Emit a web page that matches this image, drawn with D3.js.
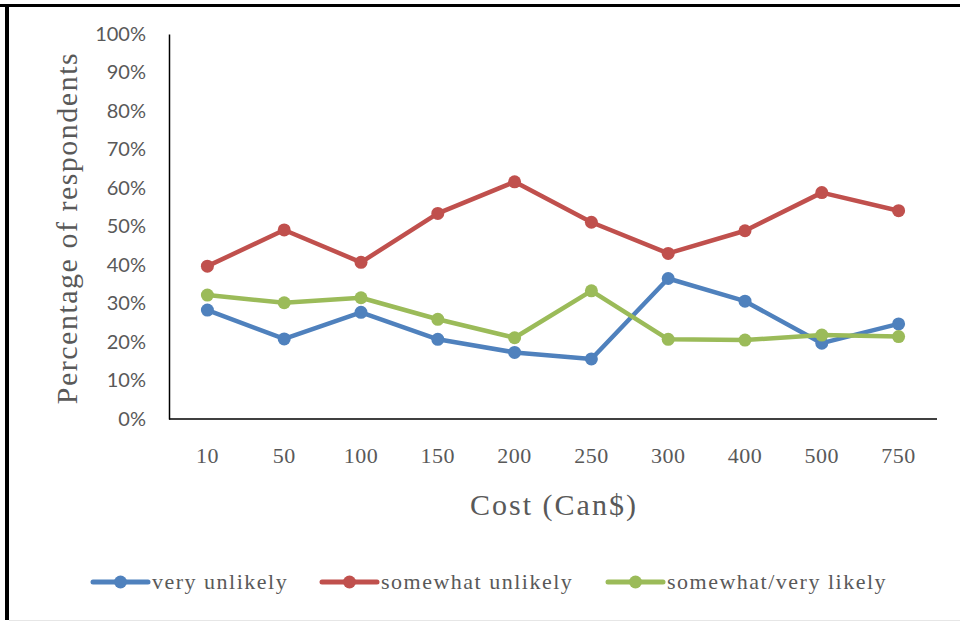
<html>
<head>
<script src="https://cdnjs.cloudflare.com/ajax/libs/d3/7.8.5/d3.min.js"></script>
<style>
  body { margin: 0; background: #fff; }
</style>
</head>
<body>
<svg id="chart" width="960" height="621"></svg>
<script>
var costs = ["10", "50", "100", "150", "200", "250", "300", "400", "500", "750"];
var veryUnlikely = [28.3, 20.8, 27.7, 20.7, 17.3, 15.6, 36.5, 30.6, 19.7, 24.7];
var somewhatUnlikely = [39.7, 49.1, 40.7, 53.4, 61.6, 51.1, 43.0, 48.9, 58.8, 54.1];
var likely = [32.2, 30.2, 31.5, 25.9, 21.1, 33.3, 20.7, 20.5, 21.8, 21.4];
var seriesNames = ["very unlikely", "somewhat unlikely", "somewhat/very likely"];
var yTicks = [0, 10, 20, 30, 40, 50, 60, 70, 80, 90, 100];

var colors = ["#4F81BD", "#C0504D", "#9BBB59"];
var series = [veryUnlikely, somewhatUnlikely, likely];

var svg = d3.select("#chart");
var serif = "'Liberation Serif', 'DejaVu Serif', serif";

// frame of the picture
svg.append("line").attr("x1", 0).attr("x2", 960).attr("y1", 5.5).attr("y2", 5.5)
   .attr("stroke", "#000").attr("stroke-width", 3);
svg.append("line").attr("x1", 7).attr("x2", 7).attr("y1", 4).attr("y2", 620)
   .attr("stroke", "#000").attr("stroke-width", 4);
svg.append("line").attr("x1", 9).attr("x2", 960).attr("y1", 620.5).attr("y2", 620.5)
   .attr("stroke", "#e6e6e6").attr("stroke-width", 1);

var xScale = d3.scaleBand().domain(costs).range([169, 937]);
var yScale = d3.scaleLinear().domain([0, 100]).range([419, 34]);

// y axis
var yAxis = d3.axisLeft(yScale).tickValues(yTicks).tickSize(0).tickPadding(23)
              .tickFormat(d => d + "%");
var gy = svg.append("g").attr("transform", "translate(169,0)").call(yAxis);
gy.select(".domain").attr("stroke", "#000").attr("stroke-width", 1.5);
gy.selectAll("text").attr("fill", "#595959").style("font-family", "Lato, 'Open Sans', sans-serif")
  .style("font-size", "20px");

// x axis
var xAxis = d3.axisBottom(xScale).tickSize(0).tickPadding(28);
var gx = svg.append("g").attr("transform", "translate(0,419)").call(xAxis);
gx.select(".domain").attr("stroke", "#000").attr("stroke-width", 1.5).attr("d", "M169,0H937");
gx.selectAll("text").attr("fill", "#595959").style("font-family", serif).style("font-size", "22px")
  .style("letter-spacing", "0.5px");

// axis titles
svg.append("text").attr("x", 554).attr("y", 515).attr("text-anchor", "middle")
   .attr("fill", "#595959").style("font-family", serif).style("font-size", "30px")
   .style("letter-spacing", "2px")
   .text("Cost (Can$)");
svg.append("text").attr("transform", "translate(77,228) rotate(-90)").attr("text-anchor", "middle")
   .attr("fill", "#595959").style("font-family", serif).style("font-size", "30px")
   .style("letter-spacing", "1.5px")
   .text("Percentage of respondents");

// lines and markers
var line = d3.line()
    .x((d, i) => xScale(costs[i]) + xScale.bandwidth() / 2)
    .y(d => yScale(d));

series.forEach(function(values, s) {
    svg.append("path").datum(values).attr("d", line)
       .attr("fill", "none").attr("stroke", colors[s]).attr("stroke-width", 4.5)
       .attr("stroke-linejoin", "round").attr("stroke-linecap", "round");
    svg.append("g").selectAll("circle").data(values).enter().append("circle")
       .attr("cx", (d, i) => xScale(costs[i]) + xScale.bandwidth() / 2)
       .attr("cy", d => yScale(d))
       .attr("r", 6.5)
       .attr("fill", colors[s]);
});

// legend
var legendX = [93, 322, 608];
var legend = svg.append("g").selectAll("g").data(seriesNames).enter().append("g")
    .attr("transform", (d, i) => "translate(" + legendX[i] + ",582)");
legend.append("line").attr("x1", 0).attr("x2", 55).attr("y1", 0).attr("y2", 0)
      .attr("stroke", (d, i) => colors[i]).attr("stroke-width", 5).attr("stroke-linecap", "round");
legend.append("circle").attr("cx", 27.5).attr("cy", 0).attr("r", 6.5).attr("fill", (d, i) => colors[i]);
legend.append("text").attr("x", 59).attr("y", 7).attr("fill", "#595959")
      .style("font-family", serif).style("font-size", "22px").style("letter-spacing", "1.5px")
      .text(d => d);
</script>
</body>
</html>
